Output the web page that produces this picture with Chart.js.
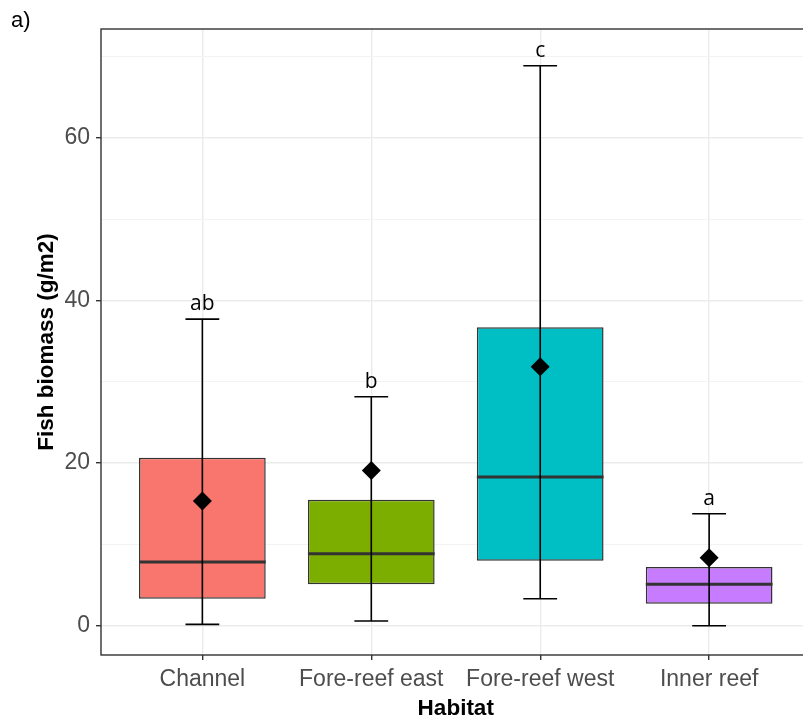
<!DOCTYPE html>
<html>
<head>
<meta charset="utf-8">
<script src="https://cdn.jsdelivr.net/npm/chart.js@4.4.1/dist/chart.umd.min.js"></script>
<style>
  html, body { margin: 0; padding: 0; background: #fff; overflow: hidden; }
  canvas { display: block; }
</style>
</head>
<body>
<canvas id="boxChart" width="820" height="724"></canvas>
<script>
// Fish biomass by habitat - box plot with means and group letters

const habitats = ["Channel", "Fore-reef east", "Fore-reef west", "Inner reef"];
const whiskerLow = [0.17, 0.58, 3.32, 0.0];
const q1 = [3.32, 5.09, 7.99, 2.70];
const medians = [7.83, 8.85, 18.28, 5.09];
const q3 = [20.66, 15.49, 36.69, 7.22];
const whiskerHigh = [37.7, 28.16, 68.85, 13.77];
const means = [15.33, 19.1, 31.85, 8.36];
const letters = ["ab", "b", "c", "a"];
const boxColors = ["#F8766D", "#7CAE00", "#00BFC4", "#C77CFF"];
const yTickLabels = [0, 20, 40, 60];
const yGridValues = [0, 10, 20, 30, 40, 50, 60, 70];

const tickFont = { family: '"Liberation Sans", Arial, sans-serif', size: 23 };
const titleFont = { family: '"Liberation Sans", Arial, sans-serif', size: 22.5, weight: "bold", lineHeight: 1 };

// medians + whiskers drawn right after the boxes, before the mean diamonds
const boxExtras = {
  id: "boxExtras",
  afterDatasetDraw(chart, args) {
    if (args.meta.type !== "bar") return;
    const { ctx, scales: { x, y } } = chart;
    ctx.save();
    habitats.forEach((h, i) => {
      const pos = i + 1;
      // median
      ctx.strokeStyle = "#333333";
      ctx.lineWidth = 3;
      ctx.beginPath();
      ctx.moveTo(x.getPixelForValue(pos - 0.375), y.getPixelForValue(medians[i]));
      ctx.lineTo(x.getPixelForValue(pos + 0.375), y.getPixelForValue(medians[i]));
      ctx.stroke();
      // whisker
      ctx.strokeStyle = "#000";
      ctx.lineWidth = 1.6;
      const cx = x.getPixelForValue(pos);
      const lo = y.getPixelForValue(whiskerLow[i]);
      const hi = y.getPixelForValue(whiskerHigh[i]);
      const cl = x.getPixelForValue(pos - 0.1);
      const cr = x.getPixelForValue(pos + 0.1);
      ctx.beginPath();
      ctx.moveTo(cx, lo); ctx.lineTo(cx, hi);
      ctx.moveTo(cl, lo); ctx.lineTo(cr, lo);
      ctx.moveTo(cl, hi); ctx.lineTo(cr, hi);
      ctx.stroke();
    });
    ctx.restore();
  },
  afterDraw(chart) {
    const { ctx, chartArea: a, scales: { x, y } } = chart;
    ctx.save();
    // letters above whiskers
    ctx.fillStyle = "#000";
    ctx.font = '21px "Open Sans", "Noto Sans", sans-serif';
    ctx.textAlign = "center";
    ctx.textBaseline = "alphabetic";
    letters.forEach((l, i) => {
      ctx.fillText(l, x.getPixelForValue(i + 1), y.getPixelForValue(whiskerHigh[i]) - 9);
    });
    // panel border
    ctx.strokeStyle = "#333333";
    ctx.lineWidth = 1.4;
    ctx.strokeRect(a.left, a.top, a.right - a.left, a.bottom - a.top);
    // panel tag
    ctx.font = '22px "Liberation Sans", Arial, sans-serif';
    ctx.textAlign = "left";
    ctx.fillText("a)", 11, 27);
    ctx.restore();
  }
};

const ctx = document.getElementById("boxChart").getContext("2d");
new Chart(ctx, {
  type: "bar",
  data: {
    datasets: [
      {
        type: "bar",
        order: 1,
        data: habitats.map((h, i) => ({ x: i + 1, y: [q1[i], q3[i]] })),
        backgroundColor: boxColors,
        borderColor: "#333333",
        borderWidth: 1.5,
        borderSkipped: false,
        categoryPercentage: 1,
        barPercentage: 0.75
      },
      {
        type: "scatter",
        order: 0,
        data: habitats.map((h, i) => ({ x: i + 1, y: means[i] })),
        pointStyle: "rectRot",
        pointRadius: 9.5,
        backgroundColor: "#000",
        borderColor: "#000",
        borderWidth: 0
      }
    ]
  },
  options: {
    responsive: false,
    animation: false,
    layout: { padding: { top: 29, right: 5.5, left: 0, bottom: 0 } },
    plugins: { legend: { display: false }, tooltip: { enabled: false } },
    scales: {
      x: {
        type: "linear",
        min: 0.4,
        max: 4.6,
        offset: false,
        afterBuildTicks: scale => { scale.ticks = habitats.map((h, i) => ({ value: i + 1 })); },
        afterFit: scale => { scale.height = 69; },
        ticks: {
          autoSkip: false,
          font: tickFont,
          color: "#4D4D4D",
          padding: 6,
          callback: v => habitats[v - 1]
        },
        grid: { offset: false, color: "#EBEBEB", lineWidth: 1.4, tickColor: "#333333", tickLength: 5 },
        border: { display: false },
        title: { display: true, text: "Habitat", font: titleFont, color: "#000", padding: { top: 4 } }
      },
      y: {
        min: -3.6,
        max: 73.37,
        afterBuildTicks: scale => { scale.ticks = yGridValues.map(v => ({ value: v })); },
        afterFit: scale => { scale.width = 101; },
        ticks: {
          autoSkip: false,
          font: tickFont,
          color: "#4D4D4D",
          padding: 6,
          callback: v => yTickLabels.includes(v) ? v : ""
        },
        grid: {
          color: c => yTickLabels.includes(c.tick.value) ? "#EBEBEB" : "#F3F3F3",
          lineWidth: c => yTickLabels.includes(c.tick.value) ? 1.4 : 1,
          tickColor: c => yTickLabels.includes(c.tick.value) ? "#333333" : "rgba(0,0,0,0)",
          tickLength: 5
        },
        border: { display: false },
        title: { display: true, text: "Fish biomass (g/m2)", font: titleFont, color: "#000", padding: { top: 35.5 } }
      }
    }
  },
  plugins: [boxExtras]
});
</script>
</body>
</html>
